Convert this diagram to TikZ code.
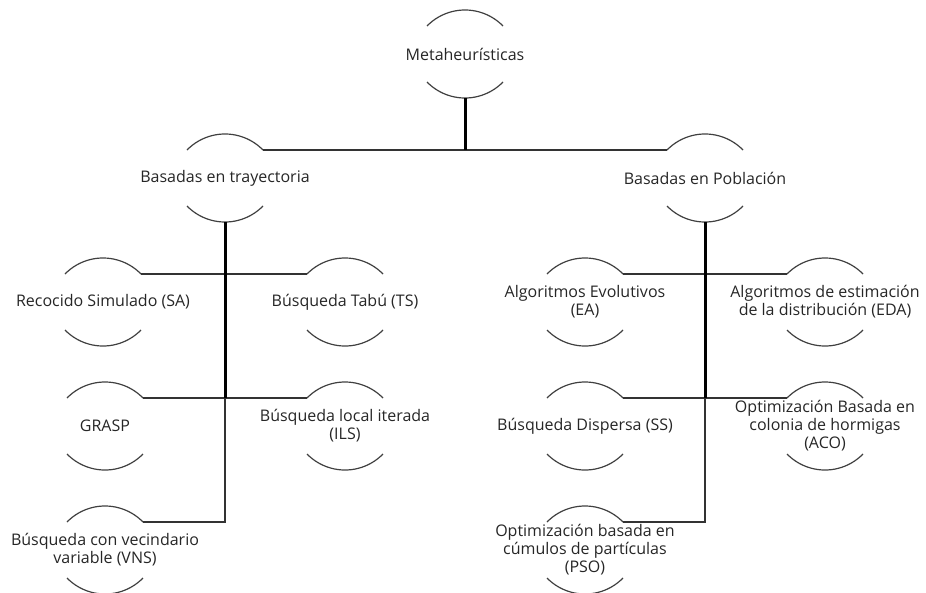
\documentclass[tikz,border=0pt]{standalone}
\usepackage{fontspec}
\setmainfont{Open Sans}
\begin{document}
\begin{tikzpicture}[x=1pt,y=1pt,
  lbl/.style={align=center,text=black!85,inner sep=0pt,
    font=\fontsize{16}{18}\selectfont},
  arcline/.style={draw=black!75,line width=1.2pt},
  thinline/.style={draw=black!80,line width=1.5pt},
  thickline/.style={draw=black,line width=3pt}]
\useasboundingbox (0,0) rectangle (926,-592);

% nodes (centres)
\node[lbl] (root) at (465,-54) {Metaheurísticas};
\node[lbl] (tra)  at (225,-178) {Basadas en trayectoria};
\node[lbl] (pob)  at (705,-178) {Basadas en Población};
\node[lbl] (sa)   at (103,-302) {Recocido Simulado (SA)};
\node[lbl] (ts)   at (345,-302) {Búsqueda Tabú (TS)};
\node[lbl] (grasp) at (105,-426) {GRASP};
\node[lbl] (ils)  at (345,-426) {Búsqueda local iterada\\(ILS)};
\node[lbl] (vns)  at (105,-550) {Búsqueda con vecindario\\variable (VNS)};
\node[lbl] (ea)   at (585,-302) {Algoritmos Evolutivos\\(EA)};
\node[lbl] (eda)  at (825,-302) {Algoritmos de estimación\\de la distribución (EDA)};
\node[lbl] (ss)   at (585,-426) {Búsqueda Dispersa (SS)};
\node[lbl] (aco)  at (825,-426) {Optimización Basada en\\colonia de hormigas\\(ACO)};
\node[lbl] (pso)  at (585,-550) {Optimización basada en\\cúmulos de partículas\\(PSO)};

% arcs above and below each node, with named end points
\foreach \n in {root,tra,pob,sa,ts,grasp,ils,vns,ea,eda,ss,aco,pso}{
  \coordinate (\n-tl) at ([shift={(-38,28)}]\n.center);
  \coordinate (\n-tr) at ([shift={(38,28)}]\n.center);
  \coordinate (\n-top) at ([shift={(0,44)}]\n.center);
  \coordinate (\n-bot) at ([shift={(0,-44)}]\n.center);
  \draw[arcline] (\n-tr) arc[start angle=44.3,end angle=135.7,radius=53.1pt];
  \draw[arcline] ([shift={(-38,-28)}]\n.center) arc[start angle=224.3,end angle=315.7,radius=53.1pt];
}

% connectors
\draw[thinline] (tra-tr) -- (pob-tl);
\draw[thickline] (root-bot) -- (root-bot |- tra-tr);

\draw[thinline] (sa-tr) -- (ts-tl);
\draw[thinline] (grasp-tr) -- (ils-tl);
\draw[thinline] (tra-bot |- grasp-tr) -- (tra-bot |- vns-tr) -- (vns-tr);
\draw[thickline] (tra-bot) -- (tra-bot |- grasp-tr);

\draw[thinline] (ea-tr) -- (eda-tl);
\draw[thinline] (ss-tr) -- (aco-tl);
\draw[thinline] (pob-bot |- ss-tr) -- (pob-bot |- pso-tr) -- (pso-tr);
\draw[thickline] (pob-bot) -- (pob-bot |- ss-tr);
\end{tikzpicture}
\end{document}
